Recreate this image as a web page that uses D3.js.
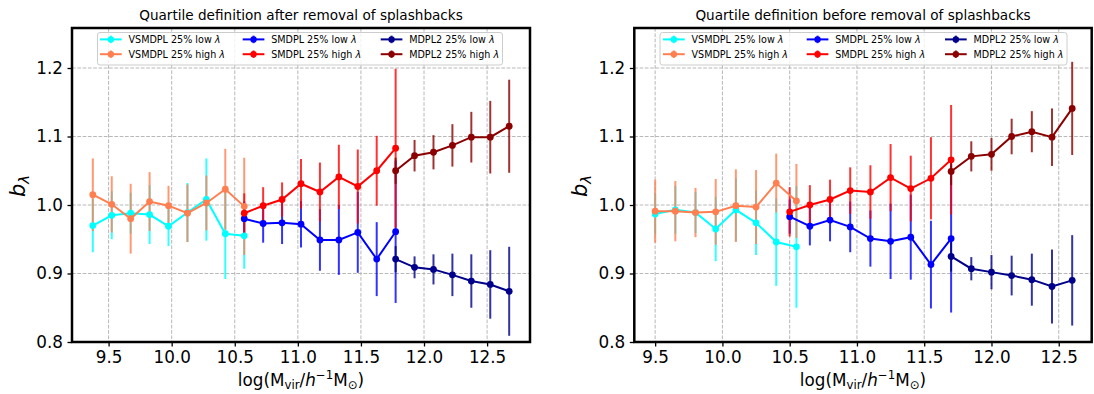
<!DOCTYPE html>
<html>
<head>
<meta charset="utf-8">
<script src="https://cdn.jsdelivr.net/npm/d3@7"></script>
<style>
  html, body { margin: 0; padding: 0; background: #fff; }
  svg { display: block; font-family: "DejaVu Sans", sans-serif; }
</style>
</head>
<body>
<svg id="chart" width="1094" height="394"></svg>
<script>
// ---- data: bias b_lambda vs halo mass, per simulation and spin quartile ----
const seriesNames = ["VSMDPL 25% low", "VSMDPL 25% high", "SMDPL 25% low", "SMDPL 25% high", "MDPL2 25% low", "MDPL2 25% high"];
const seriesColors = ["#00ffff", "#ff7f50", "#0000ff", "#ff0000", "#00008b", "#8b0000"];
const xTicks = [9.5, 10.0, 10.5, 11.0, 11.5, 12.0, 12.5];
const yTicks = [0.8, 0.9, 1.0, 1.1, 1.2];

// after removal of splashbacks
const massAfterVS = [9.375, 9.525, 9.675, 9.825, 9.975, 10.125, 10.275, 10.425, 10.575];
const massAfterSM = [10.575, 10.725, 10.875, 11.025, 11.175, 11.325, 11.475, 11.625, 11.775];
const massAfterMD = [11.775, 11.925, 12.075, 12.225, 12.375, 12.525, 12.675];
const afterVSLow = [0.970, 0.985, 0.988, 0.986, 0.969, 0.989, 1.008, 0.958, 0.955];
const afterVSLowErr = [0.039, 0.035, 0.030, 0.043, 0.029, 0.043, 0.060, 0.066, 0.048];
const afterVSHigh = [1.015, 1.001, 0.980, 1.005, 0.999, 0.988, 1.003, 1.023, 0.998];
const afterVSHighErr = [0.053, 0.041, 0.051, 0.043, 0.029, 0.042, 0.040, 0.059, 0.071];
const afterSMLow = [0.980, 0.973, 0.974, 0.972, 0.949, 0.949, 0.960, 0.921, 0.961];
const afterSMLowErr = [0.025, 0.028, 0.031, 0.034, 0.045, 0.051, 0.059, 0.054, 0.104];
const afterSMHigh = [0.988, 0.999, 1.008, 1.031, 1.019, 1.041, 1.027, 1.050, 1.083];
const afterSMHighErr = [0.029, 0.027, 0.025, 0.036, 0.043, 0.047, 0.054, 0.051, 0.116];
const afterMDLow = [0.921, 0.909, 0.906, 0.898, 0.889, 0.884, 0.874];
const afterMDLowErr = [0.019, 0.016, 0.022, 0.031, 0.039, 0.050, 0.065];
const afterMDHigh = [1.050, 1.072, 1.077, 1.087, 1.099, 1.099, 1.115];
const afterMDHighErr = [0.019, 0.023, 0.025, 0.031, 0.037, 0.053, 0.068];

// before removal of splashbacks
const massBeforeVS = [9.5, 9.65, 9.8, 9.95, 10.1, 10.25, 10.4, 10.55];
const massBeforeSM = [10.5, 10.65, 10.8, 10.95, 11.1, 11.25, 11.4, 11.55, 11.7];
const massBeforeMD = [11.7, 11.85, 12.0, 12.15, 12.3, 12.45, 12.6];
const beforeVSLow = [0.987, 0.993, 0.989, 0.965, 0.993, 0.974, 0.946, 0.939];
const beforeVSLowErr = [0.030, 0.035, 0.030, 0.047, 0.046, 0.047, 0.064, 0.089];
const beforeVSHigh = [0.991, 0.991, 0.989, 0.990, 0.999, 0.997, 1.032, 1.006];
const beforeVSHighErr = [0.046, 0.044, 0.036, 0.048, 0.053, 0.054, 0.043, 0.054];
const beforeSMLow = [0.983, 0.969, 0.978, 0.968, 0.951, 0.947, 0.953, 0.913, 0.951];
const beforeSMLowErr = [0.025, 0.028, 0.031, 0.037, 0.041, 0.055, 0.062, 0.064, 0.108];
const beforeSMHigh = [0.990, 1.000, 1.008, 1.021, 1.019, 1.040, 1.024, 1.039, 1.066];
const beforeSMHighErr = [0.036, 0.029, 0.029, 0.034, 0.039, 0.049, 0.048, 0.060, 0.080];
const beforeMDLow = [0.925, 0.907, 0.902, 0.897, 0.891, 0.881, 0.890];
const beforeMDLowErr = [0.022, 0.017, 0.025, 0.029, 0.038, 0.054, 0.066];
const beforeMDHigh = [1.049, 1.071, 1.074, 1.100, 1.107, 1.099, 1.141];
const beforeMDHighErr = [0.020, 0.022, 0.024, 0.026, 0.030, 0.042, 0.068];

const panels = [
  {
    title: "Quartile definition after removal of splashbacks",
    left: 72, right: 530, top: 28, bottom: 342,
    xDomain: [9.21, 12.84],
    legendBox: [97.5, 32.5, 405, 32.5],
    legendCols: [100, 242.7, 380.7],
    series: [
      [massAfterVS, afterVSLow, afterVSLowErr],
      [massAfterVS, afterVSHigh, afterVSHighErr],
      [massAfterSM, afterSMLow, afterSMLowErr],
      [massAfterSM, afterSMHigh, afterSMHighErr],
      [massAfterMD, afterMDLow, afterMDLowErr],
      [massAfterMD, afterMDHigh, afterMDHighErr]
    ]
  },
  {
    title: "Quartile definition before removal of splashbacks",
    left: 634.3, right: 1091.7, top: 28, bottom: 342,
    xDomain: [9.345, 12.745],
    legendBox: [660, 32.5, 407, 32.5],
    legendCols: [663, 806.7, 945],
    series: [
      [massBeforeVS, beforeVSLow, beforeVSLowErr],
      [massBeforeVS, beforeVSHigh, beforeVSHighErr],
      [massBeforeSM, beforeSMLow, beforeSMLowErr],
      [massBeforeSM, beforeSMHigh, beforeSMHighErr],
      [massBeforeMD, beforeMDLow, beforeMDLowErr],
      [massBeforeMD, beforeMDHigh, beforeMDHighErr]
    ]
  }
];

const svg = d3.select("#chart");

panels.forEach(p => {
  const x = d3.scaleLinear().domain(p.xDomain).range([p.left, p.right]);
  const y = d3.scaleLinear().domain([0.8, 1.2584]).range([p.bottom, p.top]);
  const g = svg.append("g");

  // grid
  const grid = g.append("g").attr("stroke", "#b0b0b0").attr("stroke-width", 0.9)
    .attr("stroke-dasharray", "3.7,1.6");
  grid.selectAll("line.gx").data(xTicks).join("line")
    .attr("x1", d => x(d)).attr("x2", d => x(d))
    .attr("y1", p.top).attr("y2", p.bottom);
  grid.selectAll("line.gy").data(yTicks).join("line")
    .attr("x1", p.left).attr("x2", p.right)
    .attr("y1", d => y(d)).attr("y2", d => y(d));

  // axes
  const xAxis = d3.axisBottom(x).tickValues(xTicks).tickFormat(d3.format(".1f"))
    .tickSize(4.5).tickPadding(5);
  const yAxis = d3.axisLeft(y).tickValues(yTicks).tickFormat(d3.format(".1f"))
    .tickSize(4.5).tickPadding(4.5);
  const gx = g.append("g").attr("transform", `translate(0,${p.bottom})`).call(xAxis);
  const gy = g.append("g").attr("transform", `translate(${p.left},0)`).call(yAxis);
  [gx, gy].forEach(a => {
    a.select(".domain").remove();
    a.selectAll(".tick line").attr("stroke", "#000").attr("stroke-width", 1.3);
    a.selectAll(".tick text").attr("fill", "#000").attr("font-size", 16.8)
      .attr("font-family", "DejaVu Sans");
  });

  // error bars (all series), beneath the lines
  const eb = g.append("g");
  p.series.forEach((s, i) => {
    const [xs, ys, es] = s;
    eb.append("g").attr("stroke", seriesColors[i]).attr("stroke-width", 2)
      .attr("stroke-opacity", 0.8)
      .selectAll("line").data(ys).join("line")
      .attr("x1", (d, j) => x(xs[j])).attr("x2", (d, j) => x(xs[j]))
      .attr("y1", (d, j) => y(d - es[j])).attr("y2", (d, j) => y(d + es[j]));
  });

  // lines and markers
  p.series.forEach((s, i) => {
    const [xs, ys] = s;
    const pts = ys.map((d, j) => [xs[j], d]);
    g.append("path").datum(pts)
      .attr("fill", "none").attr("stroke", seriesColors[i]).attr("stroke-width", 2)
      .attr("d", d3.line().x(d => x(d[0])).y(d => y(d[1])));
    g.append("g").selectAll("circle").data(pts).join("circle")
      .attr("cx", d => x(d[0])).attr("cy", d => y(d[1])).attr("r", 3.4)
      .attr("fill", seriesColors[i]);
  });

  // frame
  g.append("rect").attr("x", p.left).attr("y", p.top)
    .attr("width", p.right - p.left).attr("height", p.bottom - p.top)
    .attr("fill", "none").attr("stroke", "#000").attr("stroke-width", 2.5);

  // title
  g.append("text").attr("x", (p.left + p.right) / 2).attr("y", 19.5)
    .attr("text-anchor", "middle").attr("font-size", 13.6).attr("fill", "#000")
    .text(p.title);

  // x label
  const xl = g.append("text").attr("x", (p.left + p.right) / 2).attr("y", 385.5)
    .attr("text-anchor", "middle").attr("font-size", 16.8).attr("fill", "#000");
  xl.append("tspan").text("log(M");
  xl.append("tspan").attr("font-size", 11.8).attr("dy", 3.5).text("vir");
  xl.append("tspan").attr("dy", -3.5).text("/");
  xl.append("tspan").attr("font-style", "italic").text("h");
  xl.append("tspan").attr("font-size", 11.8).attr("dy", -6.5).text("\u22121");
  xl.append("tspan").attr("dy", 6.5).text("M");
  xl.append("tspan").attr("font-size", 11.8).attr("dy", 3.5).text("\u2299");
  xl.append("tspan").attr("dy", -3.5).text(")");

  // y label
  const yl = g.append("text")
    .attr("transform", `translate(${p.left - 47},186) rotate(-90)`)
    .attr("text-anchor", "middle").attr("font-size", 21).attr("fill", "#000");
  yl.append("tspan").attr("font-style", "italic").text("b");
  yl.append("tspan").attr("font-style", "italic").attr("font-size", 14.7).attr("dy", 3.5).text("\u03bb");

  // legend
  const [lx, ly, lw, lh] = p.legendBox;
  g.append("rect").attr("x", lx).attr("y", ly).attr("width", lw).attr("height", lh)
    .attr("rx", 2.5).attr("fill", "#fff").attr("fill-opacity", 0.8)
    .attr("stroke", "#cccccc").attr("stroke-width", 1);
  const rowY = [39.4, 54.2];
  seriesNames.forEach((name, i) => {
    const cx = p.legendCols[Math.floor(i / 2)];
    const cy = rowY[i % 2];
    const item = g.append("g");
    item.append("line").attr("x1", cx).attr("x2", cx + 21.7).attr("y1", cy).attr("y2", cy)
      .attr("stroke", seriesColors[i]).attr("stroke-width", 2);
    item.append("line").attr("x1", cx + 10.85).attr("x2", cx + 10.85)
      .attr("y1", cy - 3.8).attr("y2", cy + 3.8)
      .attr("stroke", seriesColors[i]).attr("stroke-width", 2).attr("stroke-opacity", 0.8);
    item.append("circle").attr("cx", cx + 10.85).attr("cy", cy).attr("r", 3.2)
      .attr("fill", seriesColors[i]);
    const t = item.append("text").attr("x", cx + 28.5).attr("y", cy + 3.4)
      .attr("font-size", 9.6).attr("fill", "#000");
    t.append("tspan").text(name + " ");
    t.append("tspan").attr("font-style", "italic").text("\u03bb");
  });
});
</script>
</body>
</html>
